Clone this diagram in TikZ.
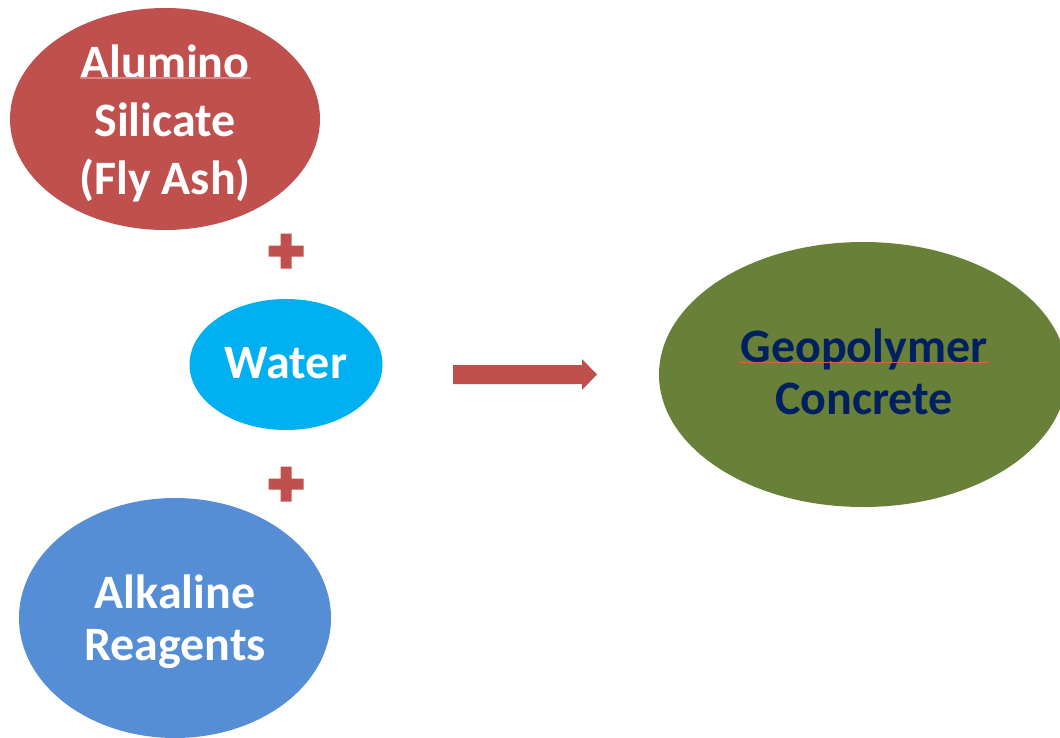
\documentclass[tikz,border=0pt]{standalone}
\usepackage{fontspec}
\setmainfont{Carlito}
\usetikzlibrary{shapes.geometric}
\definecolor{cred}{HTML}{C0504D}
\definecolor{ccyan}{HTML}{00B0F0}
\definecolor{cblue}{HTML}{558ED5}
\definecolor{cgreen}{HTML}{688037}
\definecolor{cnavy}{HTML}{002060}
\definecolor{spellA}{HTML}{D98585}
\definecolor{spellB}{HTML}{E0603A}
\tikzset{
  blob/.style={ellipse, inner sep=0pt, draw=none},
  wtxt/.style={text=white, align=center, inner sep=0pt, font=\bfseries\fontsize{36}{39}\selectfont},
  ntxt/.style={text=cnavy, align=center, inner sep=0pt, font=\bfseries\fontsize{36}{39}\selectfont},
  plus/.style={fill=cred},
  spell/.style={line width=0.9pt}
}
\begin{document}
\begin{tikzpicture}[x=0.75pt,y=-0.75pt]
\useasboundingbox (0,0) rectangle (1060,738);
% ellipses
\node[blob, fill=cred, minimum width=232.5pt, minimum height=166.5pt] (fly) at (165,119) {};
\node[blob, fill=ccyan, minimum width=144.75pt, minimum height=98.25pt] (water) at (286,364.5) {};
\node[blob, fill=cblue, minimum width=234pt, minimum height=180pt] (alk) at (175,618) {};
\node[blob, fill=cgreen, minimum width=306pt, minimum height=198.75pt] (geo) at (863,374.5) {};
% texts
\node[wtxt, font=\bfseries\fontsize{36}{43.5}\selectfont] (flyt) at (165,123) {Alumino\\Silicate\\(Fly Ash)};
\node[wtxt] (watert) at (286,363) {Water};
\node[wtxt] (alkt) at (175,622) {Alkaline\\Reagents};
\node[ntxt] (geot) at (864,371.5) {Geopolymer\\Concrete};
% spell-check underlines
\draw[spell, spellA] (80,78) -- (251,78);
\draw[spell, spellB] (740,362.5) -- (988,362.5);
% plus signs
\fill[plus] (280.5,233.5) -- (291.5,233.5) -- (291.5,245.5) -- (303.5,245.5) -- (303.5,256.5) -- (291.5,256.5) -- (291.5,268.5) -- (280.5,268.5) -- (280.5,256.5) -- (268.5,256.5) -- (268.5,245.5) -- (280.5,245.5) -- cycle;
\fill[plus] (280.5,466.5) -- (291.5,466.5) -- (291.5,478.5) -- (303.5,478.5) -- (303.5,489.5) -- (291.5,489.5) -- (291.5,501.5) -- (280.5,501.5) -- (280.5,489.5) -- (268.5,489.5) -- (268.5,478.5) -- (280.5,478.5) -- cycle;
% block arrow
\fill[cred] (453,365) -- (582,365) -- (582,359) -- (597,374.5) -- (582,390) -- (582,384) -- (453,384) -- cycle;
\end{tikzpicture}
\end{document}
